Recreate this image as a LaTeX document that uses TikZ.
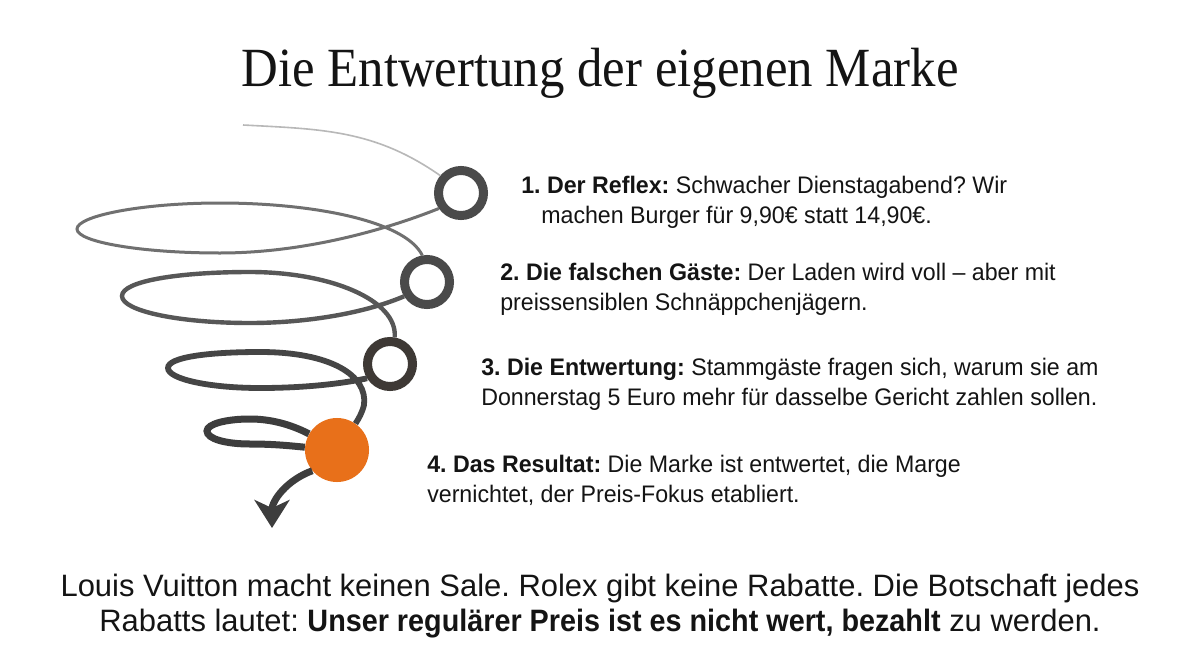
\documentclass[tikz,border=0pt]{standalone}
\usepackage{fontspec}
\setmainfont{Liberation Sans}[FakeStretch=0.97]
\newfontfamily\mottofont{Liberation Sans}[BoldFeatures={FakeStretch=0.93}]
\newfontfamily\titlefont{Liberation Serif}[FakeStretch=0.92]
\usepackage{xcolor}
\usetikzlibrary{arrows.meta}

\definecolor{ringGray}{HTML}{4A4A4A}
\definecolor{ringDark}{HTML}{3E3935}
\definecolor{dotOrange}{HTML}{E8701A}
\definecolor{txtBlack}{HTML}{141414}

\begin{document}
\frenchspacing
\begin{tikzpicture}[x=0.025cm,y=0.025cm,
  ring/.style={circle,draw=#1,line width=0.225cm,minimum size=1.125cm,inner sep=0pt},
  dot/.style={circle,fill=dotOrange,minimum size=1.6cm,inner sep=0pt},
  loopA/.style={draw=black!56,line width=0.075cm},
  loopB/.style={draw=black!66,line width=0.11cm},
  loopC/.style={draw=black!73,line width=0.145cm},
  loopD/.style={draw=black!76,line width=0.175cm},
  step text/.style={anchor=west,align=left,text=txtBlack,font=\fontsize{17}{21.5}\selectfont,inner sep=0pt}]
\def\cFaint{black!28}
\path[fill=white] (0,0) rectangle (1200,-670);

\node[anchor=base,text=txtBlack,font=\titlefont\fontsize{39.3}{44}\selectfont] (title) at (600,-86.7) {Die Entwertung der eigenen Marke};

\node[ring=ringGray] (r1) at (461,-193) {};
\node[ring=ringGray] (r2) at (427,-282) {};
\node[ring=ringDark] (r3) at (390,-364) {};
\node[dot] (res) at (337,-450) {};
\coordinate (start) at (243,-125);
\coordinate (down) at (272,-528);

\draw[\cFaint, line width=0.04cm] (start) to[out=-3,in=145] (r1.140);
\draw[loopA] (r1.215) .. controls (380,-232) and (300,-253) .. (220,-253)
  .. controls (141,-253) and (77,-242) .. (77,-229)
  .. controls (77,-216) and (141,-203) .. (220,-203)
  .. controls (310,-203) and (405,-220) .. (r2.100);
\draw[loopB] (r2.212) .. controls (360,-315) and (300,-323) .. (250,-323)
  .. controls (179,-323) and (122,-311) .. (122,-296)
  .. controls (122,-281) and (179,-272) .. (250,-272)
  .. controls (330,-272) and (398,-300) .. (r3.80);
\draw[loopC] (r3.212) .. controls (330,-386) and (290,-388) .. (260,-388)
  .. controls (209,-388) and (168,-379) .. (168,-368)
  .. controls (168,-357) and (209,-352) .. (260,-352)
  .. controls (330,-352) and (368,-375) .. (364,-405)
  .. controls (362,-413) and (359,-418) .. (res.55);
\draw[loopD] (res.150) .. controls (290,-424) and (270,-419) .. (250,-419)
  .. controls (226,-419) and (207,-424) .. (207,-431)
  .. controls (207,-439) and (226,-444) .. (250,-444)
  .. controls (275,-444) and (292,-446) .. (res.175);
\draw[loopD, -{Stealth[length=0.7cm,width=0.875cm,inset=0.2cm]}] (res.220) to[out=200,in=90] (down);

\node[step text] (s1) at (521,-202) {{\bfseries 1. Der Reflex:} Schwacher Dienstagabend? Wir\\\hspace*{0.5cm}machen Burger für 9,90€ statt 14,90€.};
\node[step text] (s2) at (500,-289) {{\bfseries 2. Die falschen Gäste:} Der Laden wird voll – aber mit\\preissensiblen Schnäppchenjägern.};
\node[step text] (s3) at (481,-384) {{\bfseries 3. Die Entwertung:} Stammgäste fragen sich, warum sie am\\Donnerstag 5 Euro mehr für dasselbe Gericht zahlen sollen.};
\node[step text] (s4) at (427,-480) {{\bfseries 4. Das Resultat:} Die Marke ist entwertet, die Marge\\vernichtet, der Preis-Fokus etabliert.};

\node[align=center,text=txtBlack,font=\mottofont\fontsize{22}{24.8}\selectfont,inner sep=0pt] (moral) at (600,-606)
  {Louis Vuitton macht keinen Sale. Rolex gibt keine Rabatte. Die Botschaft jedes\\Rabatts lautet: {\bfseries Unser regulärer Preis ist es nicht wert, bezahlt} zu werden.};
\end{tikzpicture}
\end{document}
